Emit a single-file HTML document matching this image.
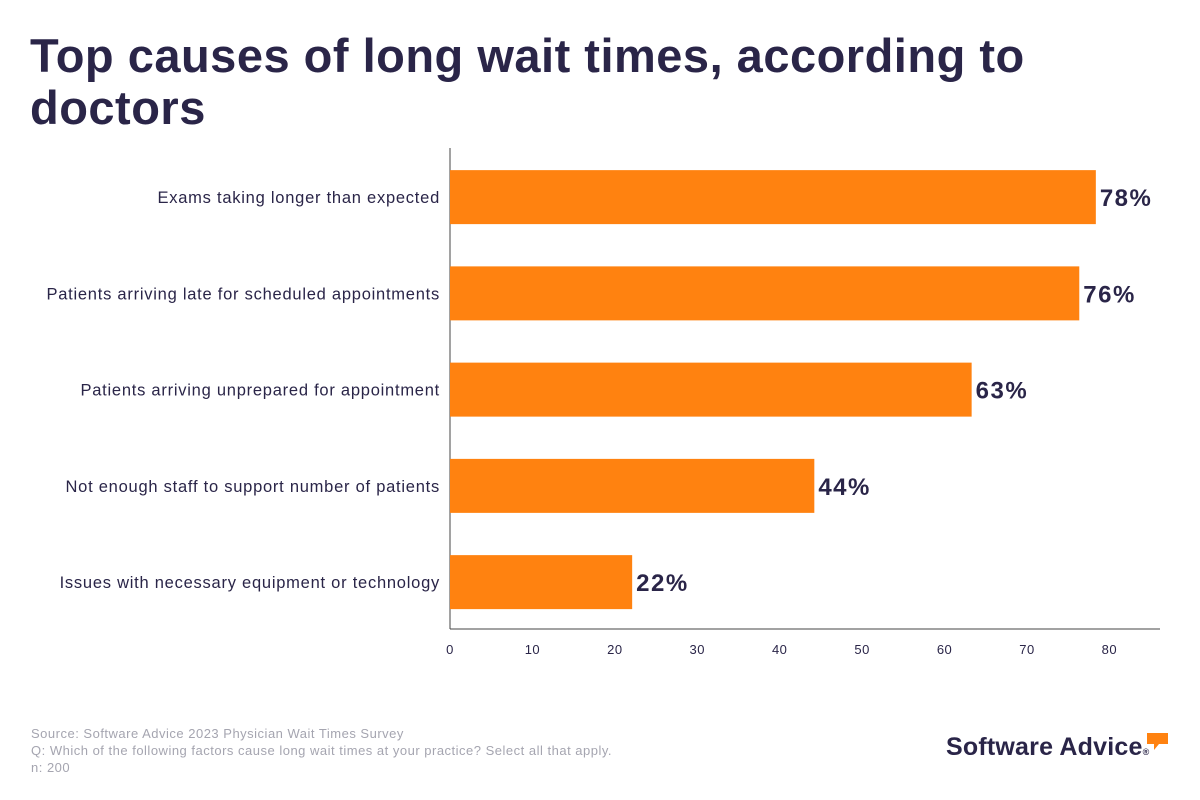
<!DOCTYPE html>
<html><head><meta charset="utf-8"><style>
body{margin:0;background:#fff;font-family:"Liberation Sans",sans-serif;}
#wrap{position:relative;width:1200px;height:800px;overflow:hidden;}
h1{position:absolute;left:30px;top:30px;margin:0;width:1100px;font-size:47px;line-height:52px;font-weight:bold;color:#2a2548;letter-spacing:0.5px;}
.foot{position:absolute;left:31px;font-size:13px;color:#a5a5b0;letter-spacing:0.5px;}
.logo{position:absolute;left:946px;top:733px;font-size:25px;font-weight:bold;color:#2a2548;letter-spacing:0.2px;}
</style></head><body>
<div id="wrap">
<h1>Top causes of long wait times, according to doctors</h1>
<svg id="chart" width="1200" height="800" style="position:absolute;left:0;top:0"></svg>
<div class="foot" style="top:726px">Source: Software Advice 2023 Physician Wait Times Survey</div>
<div class="foot" style="top:743px">Q: Which of the following factors cause long wait times at your practice? Select all that apply.</div>
<div class="foot" style="top:760px">n: 200</div>
<div class="logo">Software Advice<span style="font-size:9px;color:#2a2548">®</span></div>
<svg style="position:absolute;left:1147px;top:733px" width="22" height="18"><path d="M0 0H21V11H12L7 17V11H0Z" fill="#ff8210"/></svg>
</div>
<script>
const categories=["Exams taking longer than expected","Patients arriving late for scheduled appointments","Patients arriving unprepared for appointment","Not enough staff to support number of patients","Issues with necessary equipment or technology"];
const values=[78,76,63,44,22];
const ticks=[0,10,20,30,40,50,60,70,80];
const NS="http://www.w3.org/2000/svg";
const svg=document.getElementById('chart');
const x0=450,scale=8.28,top0=148,band=96.25,bh=54;
const xs=v=>x0+v*scale;
function mk(t,a){const e=document.createElementNS(NS,t);for(const k in a)e.setAttribute(k,a[k]);svg.appendChild(e);return e;}
const ya=mk('line',{x1:x0,y1:148,x2:x0,y2:629,stroke:'#444','stroke-width':1});


const xa=mk('line',{x1:x0,y1:629,x2:1160,y2:629,stroke:'#444','stroke-width':1});


ticks.forEach(t=>{
  const tx=mk('text',{x:xs(t)-3*(t/80),y:654,'text-anchor':'middle','font-size':13,fill:'#2a2548','letter-spacing':0.5});
  tx.textContent=t;
  
  
});
categories.forEach((c,i)=>{
  const cy=top0+band*(i+0.5)+1;
  const r=mk('rect',{x:x0,y:cy-bh/2,width:values[i]*scale,height:bh,fill:'#ff8210'});
  
  
  const l=mk('text',{x:440,y:cy+6,'text-anchor':'end','font-size':16.5,fill:'#2a2548','letter-spacing':0.75});
  l.textContent=c;
  
  
  const v=mk('text',{x:xs(values[i])+4,y:cy+9,'font-size':24,'font-weight':'bold',fill:'#2a2548','letter-spacing':1.5});
  v.textContent=values[i]+'%';
  
  
});
</script>
</body></html>
